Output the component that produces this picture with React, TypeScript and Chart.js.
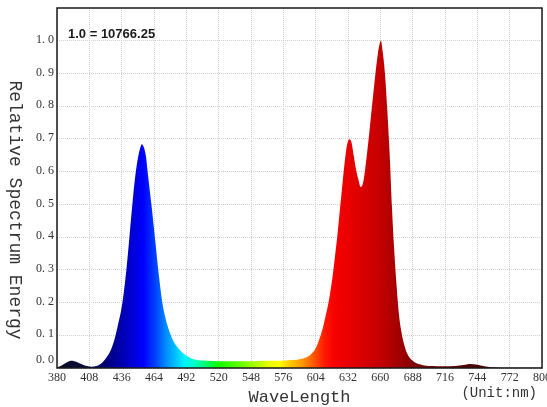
import { useEffect, useRef } from "react";
import { Chart, registerables } from "chart.js";

Chart.register(...registerables);

const wavelengths = [
  380, 384, 388, 392, 395, 398, 402, 406, 410, 414, 418, 423, 427, 430, 433, 436, 438, 440, 442, 444,
  446, 448, 450, 452, 453.5, 455, 457, 458.5, 460, 462, 465, 468, 471, 474, 477, 480, 484, 488, 492, 496,
  500, 510, 520, 530, 540, 550, 560, 570, 580, 590, 596, 600, 604, 607, 610, 612, 615, 617, 619, 621,
  623, 625, 627, 629, 631, 633, 635, 637, 639, 641, 643, 645, 647, 649, 651, 653, 655, 657, 659, 660.5,
  662, 664, 666, 668, 670, 672, 674, 676, 678, 680, 683, 688, 693, 698, 705, 715, 725, 732, 738, 744,
  750, 756, 765, 780, 800,
];

const intensities = [
  0.002, 0.008, 0.016, 0.022, 0.021, 0.017, 0.011, 0.006, 0.004, 0.006, 0.013, 0.033, 0.058, 0.09, 0.135, 0.185, 0.235, 0.298, 0.372, 0.452,
  0.528, 0.593, 0.64, 0.672, 0.684, 0.676, 0.648, 0.6, 0.553, 0.492, 0.392, 0.29, 0.205, 0.152, 0.115, 0.088, 0.065, 0.049, 0.038, 0.03,
  0.025, 0.022, 0.021, 0.021, 0.021, 0.021, 0.022, 0.022, 0.024, 0.027, 0.033, 0.042, 0.06, 0.086, 0.12, 0.15, 0.198, 0.24, 0.29, 0.35,
  0.412, 0.485, 0.555, 0.625, 0.678, 0.699, 0.69, 0.648, 0.606, 0.576, 0.553, 0.565, 0.612, 0.672, 0.738, 0.808, 0.875, 0.938, 0.985, 1.0,
  0.968, 0.9, 0.79, 0.66, 0.495, 0.362, 0.255, 0.168, 0.115, 0.08, 0.046, 0.022, 0.012, 0.008, 0.006, 0.005, 0.006, 0.009, 0.012, 0.01,
  0.005, 0.002, 0.001, 0.001, 0.001,
];

const xTicks = [380, 408, 436, 464, 492, 520, 548, 576, 604, 632, 660, 688, 716, 744, 772, 800];
const yTicks = [0, 0.1, 0.2, 0.3, 0.4, 0.5, 0.6, 0.7, 0.8, 0.9, 1.0];
const yTickLabels = ["0. 0", "0. 1", "0. 2", "0. 3", "0. 4", "0. 5", "0. 6", "0. 7", "0. 8", "0. 9", "1. 0"];

const gradientWl = [380, 400, 420, 440, 455, 465, 475, 490, 500, 510, 520, 535, 550, 562, 572, 582, 592, 602, 612, 620, 640, 660, 675, 690, 720, 750, 780, 800];
const gradientColors = [
  "#0c0c24", "#0a0a3a", "#000070", "#0000c0", "#0000ff", "#0040ff", "#0090ff", "#00f0ff", "#00ffc0", "#00ff60",
  "#10ff00", "#50ff00", "#a0ff00", "#e0ff00", "#ffff00", "#ffc800", "#ff9800", "#ff5800", "#ff1800", "#f80000",
  "#e00000", "#c40000", "#a40000", "#800000", "#600000", "#4a0000", "#280000", "#140000",
];

const scaleNote = "1.0 = 10766.25";
const xTitle = "WaveLength";
const yTitle = "Relative Spectrum Energy";
const unitLabel = "(Unit:nm)";

export default function App() {
  const ref = useRef<HTMLCanvasElement>(null);

  useEffect(() => {
    const canvas = ref.current;
    if (!canvas) return;

    const textPlugin = {
      id: "spectrumTexts",
      afterDatasetsDraw(chart: any) {
        const { ctx, chartArea: a, scales } = chart;
        ctx.save();
        ctx.strokeStyle = "#1a1a1a";
        ctx.lineWidth = 1.5;
        ctx.strokeRect(a.left, a.top, a.right - a.left, a.bottom - a.top);

        ctx.fillStyle = "#333";
        ctx.font = '12px "Liberation Serif"';
        ctx.textAlign = "right";
        ctx.textBaseline = "middle";
        yTicks.forEach((v, i) => {
          const y = scales.y.getPixelForValue(v) - (v === 0 ? 8 : 1);
          ctx.fillText(yTickLabels[i], a.left - 3, y);
        });

        ctx.textAlign = "center";
        xTicks.forEach((v) => {
          ctx.fillText(String(v), scales.x.getPixelForValue(v), a.bottom + 10);
        });

        ctx.fillStyle = "#1a1a1a";
        ctx.font = 'bold 13px "Liberation Sans"';
        ctx.textAlign = "left";
        ctx.textBaseline = "alphabetic";
        ctx.fillText(scaleNote, a.left + 11, a.top + 29.5);

        ctx.fillStyle = "#333";
        ctx.font = '17px "Liberation Mono"';
        ctx.textAlign = "center";
        ctx.fillText(xTitle, (a.left + a.right) / 2, 402);

        ctx.font = '14px "Liberation Mono"';
        ctx.textAlign = "right";
        ctx.textBaseline = "middle";
        ctx.fillText(unitLabel, 537, 393);

        ctx.translate(15, (a.top + a.bottom) / 2 + 22);
        ctx.rotate(Math.PI / 2);
        ctx.font = '18px "Liberation Mono"';
        ctx.textAlign = "center";
        ctx.textBaseline = "middle";
        ctx.fillText(yTitle, 0, 0);
        ctx.restore();
      },
    };

    const chart = new Chart(canvas, {
      type: "line",
      data: {
        datasets: [
          {
            data: wavelengths.map((w, i) => ({ x: w, y: intensities[i] })),
            fill: "origin",
            borderColor: "rgba(0,0,0,0)",
            borderWidth: 0,
            pointRadius: 0,
            cubicInterpolationMode: "monotone",
            backgroundColor: (context: any) => {
              const c = context.chart;
              if (!c.chartArea) return "rgba(0,0,0,0)";
              const xs = c.scales.x;
              const g = c.ctx.createLinearGradient(xs.getPixelForValue(380), 0, xs.getPixelForValue(800), 0);
              gradientWl.forEach((w, i) => g.addColorStop((w - 380) / 420, gradientColors[i]));
              return g;
            },
          },
        ],
      },
      options: {
        responsive: false,
        devicePixelRatio: 1,
        animation: false,
        layout: { padding: { left: 0, top: 8, right: 5, bottom: 0 } },
        plugins: { legend: { display: false }, tooltip: { enabled: false } },
        scales: {
          x: {
            type: "linear",
            min: 380,
            max: 800,
            afterBuildTicks: (s: any) => {
              s.ticks = xTicks.map((v) => ({ value: v }));
            },
            afterFit: (s: any) => {
              s.height = 39;
            },
            ticks: { display: false },
            grid: { color: "#d0d0d0", lineWidth: 1, drawTicks: false },
            border: { display: false, dash: [1, 1] },
          },
          y: {
            type: "linear",
            min: 0,
            max: 1.1,
            afterBuildTicks: (s: any) => {
              s.ticks = yTicks.map((v) => ({ value: v }));
            },
            afterFit: (s: any) => {
              s.width = 57;
            },
            ticks: { display: false },
            grid: { color: "#d0d0d0", lineWidth: 1, drawTicks: false },
            border: { display: false, dash: [1, 1] },
          },
        },
      },
      plugins: [textPlugin],
    } as any);

    return () => chart.destroy();
  }, []);

  return (
    <div style={{ position: "fixed", left: 0, top: 0, width: 547, height: 407, background: "#fff" }}>
      <canvas ref={ref} width={547} height={407} style={{ display: "block", width: 547, height: 407 }} />
    </div>
  );
}
